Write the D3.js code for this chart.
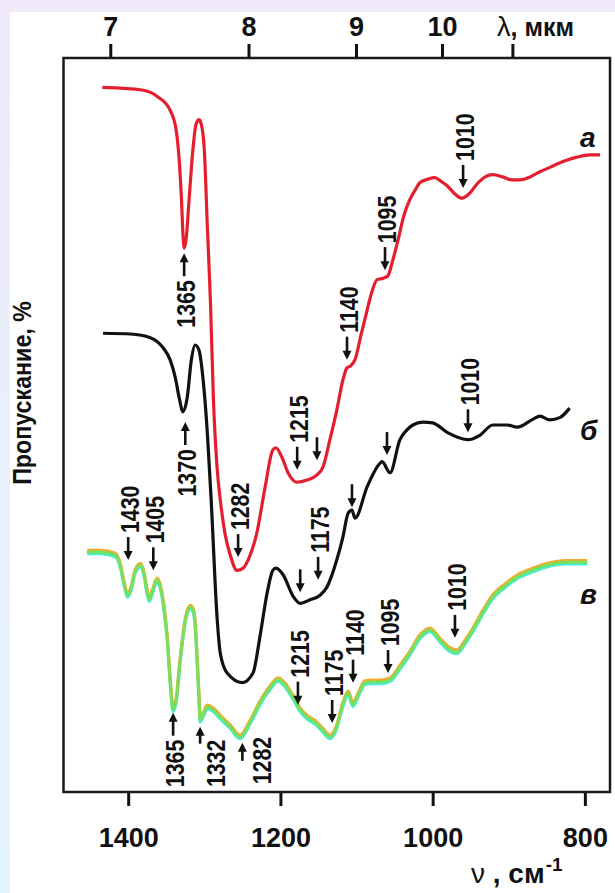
<!DOCTYPE html>
<html><head><meta charset="utf-8">
<script src="https://cdn.jsdelivr.net/npm/d3@7"></script>
<style>
html,body{margin:0;padding:0;background:#ebe9f8;}
svg{display:block;}
</style></head><body>
<svg id="chart" width="615" height="893"></svg>
<script>
// ---- data ----
const nuTicks = [1400, 1200, 1000, 800];
const lambdaTicks = [7, 8, 9, 10, 11];
const lambdaTickLabels = ["7", "8", "9", "10", ""];

const redNu = [1434,1411,1380,1361,1345,1337,1333,1330,1328,1326.5,1324,1320,1315,1311,1307,1304,1300,1296,1292,1288,1283,1279,1273,1266,1257,1249,1242.5,1231,1220,1210,1206,1198,1190,1178,1165,1152,1144,1135,1126,1118,1112.5,1108.5,1102,1094,1086,1080,1073,1065,1059,1053,1045.5,1037.6,1030,1023,1017,1006,997,989,981,971,961.5,952,942,931,921,908,896,885,872,859,846,826,810.5,793,780];
const redT = [96.0,95.9,95.6,94.7,92.9,90.2,86.1,80.7,75.9,74.1,75.2,80.7,87.5,90.9,91.6,91.0,87.5,77.0,67.0,53.4,43.9,39.8,35.3,32.3,30.2,30.5,31.6,35.3,41.6,46.6,46.9,45.6,43.5,42.2,42.5,43.2,44.3,48.0,52.0,56.1,57.8,58.0,58.9,62.3,65.7,68.1,69.8,70.0,70.3,72.2,75.2,78.6,80.7,82.0,83.0,83.5,83.7,83.2,82.6,81.5,80.9,81.5,82.8,83.8,84.1,83.8,83.4,83.4,83.8,84.5,85.1,86.0,86.5,86.8,86.8];

const blackNu = [1433,1397,1371,1354,1345,1338,1333,1328,1322.5,1317,1312,1307,1301.5,1296,1291,1283,1279,1270,1250,1236,1227,1217.5,1210,1206,1196.5,1183,1174,1161,1148,1139,1126,1118,1111,1106,1102,1086,1069,1066.5,1056,1043,1034,1026,1013,1000,981,953.6,938,921,902,889,868,859,846,833,820];
const blackT = [62.5,62.4,61.9,60.5,58.9,56.4,53.7,51.8,53.7,58.9,60.9,60.2,56.1,48.9,39.8,23.4,18.9,16.2,14.9,16.2,21.1,27.1,30.2,30.5,29.6,26.6,25.7,26.2,26.8,27.9,31.6,34.7,38.0,38.4,37.3,41.6,44.8,45.0,43.5,48.0,49.3,50.0,50.4,50.3,49.0,48.0,48.6,50.0,50.0,49.7,50.8,51.2,50.7,51.0,52.3];

const greenNu = [1454,1437,1417,1410.5,1405,1401,1396,1391,1384,1379,1375,1372.4,1368.5,1362,1356.7,1352.7,1348.8,1344.9,1341,1337,1331.7,1325,1318.6,1314.7,1312,1309.4,1306.8,1305.5,1301.5,1296,1288.4,1279,1266,1253,1240,1227,1213.6,1203,1194,1183.4,1174,1165,1154.5,1144,1135,1126,1118,1111,1104.6,1098,1089,1080,1069,1056,1043,1030,1017,1003.5,990.4,980,968,957.6,947,934,921,905,889,869.6,850,826,797];
const greenT = [32.7,32.7,32.3,30.9,28.2,26.8,27.8,30.0,30.9,29.6,27.2,26.2,27.2,28.9,27.5,24.8,21.1,15.3,11.2,12.5,18.0,23.4,25.2,24.8,22.8,18.0,12.5,9.8,10.5,11.6,11.2,10.2,8.9,7.5,9.5,12.1,14.2,15.3,14.6,12.9,11.2,10.2,9.5,8.4,7.5,8.9,11.9,13.5,11.9,13.2,14.9,15.0,15.0,15.3,17.0,18.9,21.1,22.1,20.7,19.6,19.1,20.4,22.1,24.5,26.6,28.1,29.3,30.2,30.9,31.3,31.3];

// annotations: [label, wavenumber position, arrow-tip transmittance, direction]
const annRed = [["1365",1326.5,73.4,"up"],["1282",1255.6,32.0,"down"],["1215",1178,43.9,"down"],["",1152,45.2,"down"],["1140",1112.5,58.9,"down"],["1095",1062.6,71.1,"down"],["1010",960,82.3,"down"]];
const annBlack = [["1370",1325,50.4,"up"],["",1174,27.2,"down"],["1175",1150.5,28.9,"down"],["",1106,38.8,"down"],["",1060,45.9,"down"],["1010",953.6,49.0,"down"]];
const annGreen = [["1430",1400,31.6,"down"],["1405",1367,30.2,"down"],["1365",1341,10.8,"up"],["1332",1305.5,8.9,"up"],["1282",1250,6.7,"up"],["1215",1177,11.9,"down"],["1175",1132,9.4,"down"],["1140",1104.6,14.9,"down"],["1095",1058.6,16.2,"down"],["1010",970.7,21.0,"down"]];

const seriesNames = ["a", "б", "в"];
const seriesNameT = [87.9, 48.0, 25.6];

// ---- layout ----
const W = 615, H = 893, L = 63.5, R = 610, T = 58, B = 792;
const FONT = "'Liberation Sans', Arial, Helvetica, sans-serif";
// labels placed beside (not in line with) their arrows: [dx, dy of text end from tip, arrow length]
const sideLabel = {"g1332": [16, 13, 17], "g1282": [19, -6, 18]};
const svg = d3.select("#chart");

const defs = svg.append("defs");
const grad = defs.append("linearGradient").attr("id","bg").attr("x1",0).attr("y1",0).attr("x2",0).attr("y2",1);
grad.append("stop").attr("offset","0%").attr("stop-color","#efe9f9");
grad.append("stop").attr("offset","100%").attr("stop-color","#e2f5fc");
svg.append("rect").attr("width",W).attr("height",H).attr("fill","url(#bg)");
svg.append("rect").attr("x",10).attr("y",12).attr("width",W-10).attr("height",H-12).attr("fill","#fff");

const x = d3.scaleLinear().domain([1485, 767]).range([L, R]);
const xTop = d3.scaleLinear().domain([1489, 783]).range([L, R]);
const y = d3.scaleLinear().domain([0, 100]).range([B, T]);

// axes
const axB = svg.append("g").attr("transform",`translate(0,${B})`)
  .call(d3.axisBottom(x).tickValues(nuTicks).tickSize(14).tickPadding(22).tickFormat(d3.format("d")));
const axT = svg.append("g").attr("transform",`translate(0,${T})`)
  .call(d3.axisTop(xTop).tickValues(lambdaTicks.map(l => 10000 / l)).tickSize(14).tickPadding(8)
    .tickFormat((d, i) => lambdaTickLabels[i]));
[axB, axT].forEach(a => {
  a.select(".domain").remove();
  a.selectAll(".tick line").attr("stroke","#111").attr("stroke-width",3);
  a.selectAll(".tick text").attr("fill","#111").attr("font-family",FONT)
    .attr("font-weight","bold").attr("font-size",27);
});

// frame
svg.append("rect").attr("x",L).attr("y",T).attr("width",R-L).attr("height",B-T)
  .attr("fill","none").attr("stroke","#1a1a1a").attr("stroke-width",2.5);

// axis titles
const lt = svg.append("text").attr("x",R-113).attr("y",T-22).attr("font-family",FONT)
  .attr("font-weight","bold").attr("font-size",25).attr("fill","#111");
lt.append("tspan").attr("font-weight","normal").attr("font-size",27).text("λ");
lt.append("tspan").text(", мкм");

const nt = svg.append("text").attr("x",R-139).attr("y",B+91).attr("font-family",FONT)
  .attr("font-weight","bold").attr("font-size",28).attr("fill","#111");
nt.append("tspan").attr("font-weight","normal").text("ν");
nt.append("tspan").text(" , см");
nt.append("tspan").attr("font-size",19).attr("dy",-12).attr("dx",1).text("-1");

svg.append("text").attr("transform",`translate(22,393) rotate(-90) scale(0.93,1)`)
  .attr("text-anchor","middle").attr("dy","0.36em").attr("font-family",FONT)
  .attr("font-weight","bold").attr("font-size",25).attr("fill","#111").text("Пропускание, %");

// curves
const line = d3.line().x(d => x(d[0])).y(d => y(d[1])).curve(d3.curveMonotoneX);
const plot = svg.append("g");
const green = d3.zip(greenNu, greenT);
plot.append("path").attr("d",line(green)).attr("transform","translate(0,1.7)")
  .attr("fill","none").attr("stroke","#45ecd8").attr("stroke-width",3.3);
plot.append("path").attr("d",line(green)).attr("transform","translate(0,-1.7)")
  .attr("fill","none").attr("stroke","#f6a92a").attr("stroke-width",3.3);
plot.append("path").attr("d",line(green))
  .attr("fill","none").attr("stroke","#74e25e").attr("stroke-width",2.8);
plot.append("path").attr("d",line(d3.zip(blackNu, blackT)))
  .attr("fill","none").attr("stroke","#111").attr("stroke-width",3.2).attr("stroke-linejoin","round");
plot.append("path").attr("d",line(d3.zip(redNu, redT)))
  .attr("fill","none").attr("stroke","#e41f2d").attr("stroke-width",3.2).attr("stroke-linejoin","round");

// annotations
const ARROW = 23, HEAD = 9, GAP = 4;
const ann = svg.append("g");
function annotate(list, key) {
  list.forEach(([lab, nu, tip, dir]) => {
    const side = lab ? sideLabel[key + lab] : null;
    const px = x(nu), py = y(tip);
    const s = dir === "down" ? -1 : 1;
    const tail = py + s * (side ? side[2] : ARROW);
    ann.append("line").attr("x1",px).attr("x2",px).attr("y1",py + s * (HEAD - 1)).attr("y2",tail)
      .attr("stroke","#111").attr("stroke-width",2.6);
    ann.append("path").attr("d",`M${px},${py} L${px - 4.5},${py + s * HEAD} L${px + 4.5},${py + s * HEAD} Z`)
      .attr("fill","#111");
    if (lab) {
      const tx = side ? px + side[0] : px + 1.5;
      const ty = side ? py + side[1] : tail + s * GAP;
      ann.append("text")
        .attr("transform",`translate(${tx},${ty}) rotate(-90) scale(0.82,1)`)
        .attr("text-anchor", dir === "down" ? "start" : "end")
        .attr("dy","0.36em").attr("font-family",FONT).attr("font-weight","bold")
        .attr("font-size",26).attr("fill","#111").text(lab);
    }
  });
}
annotate(annRed, "r"); annotate(annBlack, "b"); annotate(annGreen, "g");

// series labels
svg.selectAll(".sname").data(seriesNames).enter().append("text")
  .attr("x", R - 30).attr("y", (d, i) => y(seriesNameT[i]))
  .attr("font-family",FONT).attr("font-weight","bold").attr("font-style","italic")
  .attr("font-size",28).attr("fill","#111").text(d => d);
</script>
</body></html>
